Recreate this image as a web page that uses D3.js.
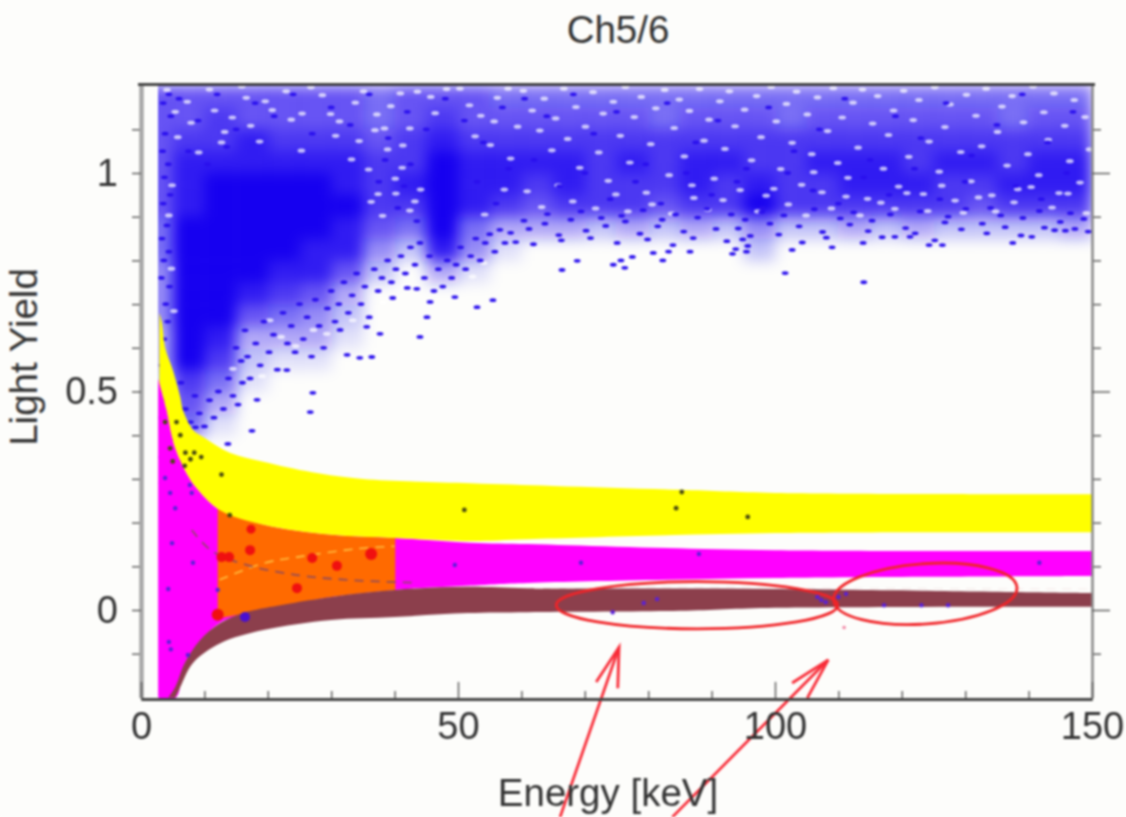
<!DOCTYPE html>
<html><head><meta charset="utf-8">
<script src="https://cdn.jsdelivr.net/npm/d3@7"></script>
<style>html,body{margin:0;padding:0;background:#fdfdfb;overflow:hidden}svg{display:block;filter:blur(0.8px)}</style>
</head><body><div id="c"></div>
<script>
const title = "Ch5/6", xLabel = "Energy [keV]", yLabel = "Light Yield";
const xMajor = [0,50,100,150], xMinor = [10,20,30,40,60,70,80,90,110,120,130,140];
const yMajor = [0,0.5,1], yMinor = [-0.1,0.1,0.2,0.3,0.4,0.6,0.7,0.8,0.9,1.1];

const yellowUpper = [[2.9,.68],[3.3,.657],[3.8,.6],[5,.55],[6.2,.487],[6.6,.458],[8.2,.412],[9.8,.396],[14,.36],[19.3,.339],[27,.315],[35,.30],[52,.29],[65,.284],[85,.275],[100,.268],[150,.265]];
const yellowLower = [[2.9,.52],[4,.46],[5.2,.38],[7.2,.313],[9,.275],[12.4,.229],[19.3,.195],[30,.172],[40,.165],[52,.158],[61,.162],[100,.176],[150,.178]];
const magentaUpper = [[2.7,.53],[4,.46],[5.2,.38],[7.2,.313],[9,.275],[12.4,.229],[19.3,.195],[30,.172],[40,.165],[52,.154],[61,.151],[75,.145],[100,.137],[150,.135]];
const magentaLower = [[2.7,-.2],[5.5,-.2],[7,-.12],[12.4,-.03],[19.3,0],[30,.03],[40,.046],[52,.056],[61,.062],[100,.073],[150,.078]];
const orangeUpper = [[12.1,.232],[19.3,.195],[30,.172],[40.1,.165]];
const orangeLower = [[12.1,-.02],[19.3,0],[30,.03],[40.1,.046]];
const brownUpper = [[4.3,-.2],[5.4,-.176],[6.9,-.121],[9.3,-.069],[12.5,-.03],[16.1,-.007],[19.3,.004],[30,.03],[40,.046],[51.5,.053],[61,.05],[100,.048],[150,.039]];
const brownLower = [[5.4,-.2],[6.2,-.176],[8.2,-.121],[12.5,-.076],[19.3,-.046],[30,-.023],[40,-.016],[51.5,-.007],[61,-.005],[85,-.002],[100,.005],[150,.007]];

const redDots = [[12.1,-.011,6],[12.7,.121,5],[13.9,.121,5],[17.35,.185,4.5],[17.2,.137,5],[27,.119,5],[30.9,.101,5],[36.3,.128,6],[24.6,.05,5]];
const bigBlueDot = [[16.4,-.016,5]];
const fitYellow = [[12.4,.069],[19.3,.107],[24.6,.121],[34,.14],[40,.146]];
const fitGrey = [[8,.183],[11,.137],[16.2,.105],[24.6,.08],[32.5,.069],[43.6,.062]];
const fitWhite = [[62,.05],[85,.052],[110,.05],[150,.048]];

/* density of the blue cloud, 5 keV columns, 0.05 rows from the top (read by eye, 0-9) */
const densityRows = [1.175,1.125,1.075,1.025,.975,.925,.875,.825,.775,.725,.675,.625,.575,.525,.475,.425];
const densityGrid = [
[6,6,6,6,6,6,6,5,6,6,6,5,5,5,5,5,5,5,5,5,5,5,5,5,5,5,5,5,5,5],
[6,6,7,6,6,6,6,5,6,7,6,6,6,6,6,6,5,6,6,6,5,6,6,6,6,6,6,5,6,6],
[6,7,7,8,7,7,7,6,7,8,7,7,7,7,7,7,7,7,7,7,7,7,7,7,7,7,7,7,7,7],
[6,8,8,8,8,8,8,7,7,9,8,8,8,8,7,8,7,8,8,7,7,8,8,8,7,8,8,7,8,8],
[6,8,9,9,9,9,8,7,8,9,8,8,7,8,7,7,7,8,7,8,7,7,8,8,8,7,7,8,8,8],
[6,8,9,9,9,9,9,7,7,9,8,7,6,7,7,7,6,7,7,9,7,7,7,7,7,7,6,7,7,7],
[5,9,9,9,9,9,8,6,5,9,5,3,3,3,2,3,2,3,2,4,2,2,3,2,3,2,2,2,2,3],
[5,9,9,9,9,8,8,4,2,8,4,1,0,0,0,0,0,0,0,2,0,0,0,0,0,0,0,0,0,0],
[4,9,9,9,8,8,6,2,0,3,1,0,0,0,0,0,0,0,0,0,0,0,0,0,0,0,0,0,0,0],
[4,9,9,8,7,6,3,0,0,0,0,0,0,0,0,0,0,0,0,0,0,0,0,0,0,0,0,0,0,0],
[4,9,9,6,5,4,2,0,0,0,0,0,0,0,0,0,0,0,0,0,0,0,0,0,0,0,0,0,0,0],
[3,9,8,3,3,3,1,0,0,0,0,0,0,0,0,0,0,0,0,0,0,0,0,0,0,0,0,0,0,0],
[3,9,7,2,1,1,0,0,0,0,0,0,0,0,0,0,0,0,0,0,0,0,0,0,0,0,0,0,0,0],
[2,7,5,1,0,0,0,0,0,0,0,0,0,0,0,0,0,0,0,0,0,0,0,0,0,0,0,0,0,0],
[2,6,3,0,0,0,0,0,0,0,0,0,0,0,0,0,0,0,0,0,0,0,0,0,0,0,0,0,0,0],
[2,5,1,0,0,0,0,0,0,0,0,0,0,0,0,0,0,0,0,0,0,0,0,0,0,0,0,0,0,0]];

const cloudPoints = [
[66.4,.778],[68.8,.799],[74.5,.79],[76.3,.783],[75.7,.80],[77.5,.808],[82.3,.80],[80.8,.817],[83.2,.82],[86.6,.82],[93.3,.815],[95.5,.82],[102.7,.824],[101.6,.771],[114,.75],[109,.83],[113.9,.84],[126.4,.835],[124.3,.835],[137.5,.84],[140.5,.854],[118.9,.854],[121.3,.854],
[23,.549],[27.1,.497],[18.3,.481],[32.5,.584],[34.5,.577],[36.4,.579],[44,.625],[37.7,.632],[45.1,.67],[53,.693],[55.5,.709],[45.6,.705],[49.5,.716],[42,.737],[43.5,.735],[39.7,.714],[35.6,.648],[31.4,.641],[26.7,.453],[17.5,.41],[13.7,.38],[12.3,.364],
[15,.60],[15.8,.57],[16.4,.64],[17.2,.53],[18.1,.61],[18.8,.56],[19.4,.66],[20.2,.59],[20.9,.63],[21.5,.55],[22.4,.68],[23.1,.61],[23.7,.65],[24.3,.59],[25,.70],[25.6,.62],[26.2,.67],[26.9,.58],[27.5,.71],[28.1,.65],[28.8,.60],[29.4,.69],[30,.73],[30.6,.66],[31.2,.70],[32,.75],[32.7,.68],[33.3,.72],[34,.77],[34.7,.70],[35.3,.74],[36,.67],[36.8,.78],[37.4,.73],[38,.76],[38.9,.80],[39.5,.75],[40.2,.78],[41,.81],[41.7,.77],[42.5,.83],[43.2,.79],[44,.84],[44.7,.76],[45.5,.81],[46.2,.73],[46.9,.78],[47.6,.74],[48.3,.80],[49,.76],[49.7,.79],[50.4,.83],[51.2,.78],[52,.81],[52.8,.85],[53.5,.80],[54.3,.84],[55,.86],[55.8,.82],[56.6,.87],[57.4,.84],
[58.3,.863],[59.1,.842],[60.4,.891],[61.2,.872],[61.9,.837],[63.7,.884],[64.1,.906],[65.9,.858],[66.3,.846],[67.8,.893],[69.4,.912],[70.2,.868],[70.9,.851],[72.6,.897],[73.3,.879],[75.1,.84],[75.8,.902],[76.4,.889],[78.7,.861],[79.2,.915],[79.9,.848],[81.5,.878],[82.2,.893],[83.9,.835],[84.3,.905],[85.6,.866],[87.1,.851],[87.8,.898],[89.3,.918],[90.7,.872],[92.4,.844],[93.1,.905],[93.8,.826],[94.2,.873],[94.9,.848],[95.3,.893],[95.7,.833],[96.1,.856],[97.9,.911],[99.2,.884],[100.6,.859],[101.4,.903],[103.8,.878],[104.3,.841],[106.2,.917],[107.5,.865],[108.1,.852],[110.3,.896],[111.8,.882],[112.4,.91],[114.7,.867],[115.3,.891],[116.9,.853],[118.2,.905],[120.6,.874],[122.1,.862],[122.9,.912],[125.2,.846],[126.8,.887],[127.3,.9],[129.4,.871],[130.1,.918],[132.7,.884],[133.4,.862],[135.6,.903],[136.3,.876],[138.8,.857],[139.1,.897],[141.7,.913],[142.5,.875],[144.1,.869],[145,.888],[145.8,.868],[146.6,.908],[147.3,.872],[148.7,.895],[149.4,.866],
[3.3,.56],[3.6,.62],[3.9,.70],[4.2,.66],[3.2,.76],[3.6,.80],[4.5,.74],[3.3,.85],[4.1,.88],[3.5,.93],[4.4,.82],[3.7,.99],[4.6,.95],[3.4,1.05],[4.3,1.02],[3.8,1.09],[4.7,1.13],[3.5,1.16],[4.4,1.18],[5.2,.49],[5.7,.44],[6.3,.52],[7,.46],[7.8,.43],[8.5,.49],[9.2,.45],[10,.42],[10.8,.48],[11.5,.44],[12.2,.50],[13,.46],[13.8,.53],[14.5,.49],[15.3,.47],[16,.52],[16.8,.58],
[3.2,.35],[3.6,.34],[4.1,.345],[4.6,.33],[5.2,.338],[5.9,.34],[6.6,.335],[7.4,.342],[8,.33],[3.4,.40],[4,.42],[3.7,.37],[6.2,.43],[6.7,.405],[7.2,.42],[7.9,.40],[8.6,.418],[5.3,.40],[3.1,.44],[3.5,.48],[4.3,.5],[5,.44],[5.6,.47],[6.1,.46],[4.6,.39],[3.9,.31],[3.3,.29],
[60.5,1.17],[64,1.13],[68.2,1.18],[71.4,1.09],[75,1.14],[79.6,1.02],[83,1.16],[87.5,1.07],[91,1.12],[95.5,1.01],[99,1.15],[103,1.05],[107,1.1],[111,1.17],[115,1.03],[119,1.13],[123,1.08],[127,1.16],[131,1.04],[135,1.11],[139,1.18],[143,1.07],[147,1.14],
[62,1.03],[66,.97],[70,1.0],[74,.94],[78,.98],[82,.93],[86,1.0],[90,.95],[94,.98],[98,.92],[102,1.0],[106,.96],[110,.93],[114,.99],[118,.95],[122,1.01],[126,.94],[130,.98],[134,.92],[138,.97],[142,.94],[146,1.0],
[6,1.17],[9,1.12],[12,1.18],[15,1.1],[18,1.16],[21,1.13],[24,1.18],[27,1.09],[30,1.15],[33,1.11],[36,1.18],[39,1.08],[42,1.14],[45,1.1],[48,1.17],[51,1.12],[54,1.07],[57,1.15],
[7.5,1.05],[10.5,1.02],[13.5,1.06],[37.5,.98],[38.5,1.03],[40.5,.92],[41.5,.97],[42.5,1.02],[43.5,.89],[53,.98],[56,.93],[58,1.01]
];
const cloudGaps = [
[7.3,1.163],[10.8,1.191],[14.4,1.127],[16.6,1.172],[20.7,1.144],[22.9,1.187],[25.4,1.136],[28.6,1.178],[31.3,1.118],[33.8,1.161],[37.2,1.134],[40.9,1.182],[42.4,1.102],[45.7,1.174],[50.3,1.193],[53.6,1.131],[56.2,1.172],[59.4,1.106],
[5.8,1.082],[9.1,1.047],[13.2,1.094],[18.7,1.072],[25.3,1.051],[34.4,1.073],[38.9,1.054],[41.2,1.012],[55.1,1.064],[58.3,1.033],[4.9,.972],[4.4,.903],[4.8,.781],[5.2,.684],[36.3,.934],[38.1,.902],[40.2,.953],[42.4,.914],[44.1,.962],[54.2,.905],[57.3,.962],[20.3,.663],[22.1,.625],[24.4,.604],[27.2,.641],[14.5,.552],[19.1,.535],[29.3,.632],[33.4,.663],[38.2,.704],[41.6,.742],[52.3,.763],[54.1,.794],
[4.1,1.19],[5.4,1.14],[7.9,1.115],[11.6,1.143],[12.7,1.07],[15.9,1.198],[17.3,1.108],[19.6,1.164],[23.7,1.122],[26.8,1.196],[29.9,1.135],[30.7,1.085],[35.1,1.187],[36.9,1.098],[39.4,1.153],[43.6,1.186],[46.4,1.137],[48.2,1.192],[51.8,1.155],[52.7,1.084],[55.7,1.118],[57.9,1.193],[38.4,1.102],[41.3,1.063],[33.2,1.031],[35.9,1.008],[40.1,.987],[37.4,.952],[43.2,.935],
[60.3,1.188],[61.7,1.143],[62.9,1.097],[63.6,1.17],[64.8,1.052],[65.4,1.125],[66.7,1.193],[67.3,1.078],[68.6,1.151],[69.2,1.012],[70.1,1.106],[71.3,1.185],[72.2,1.047],[72.9,1.136],[73.7,.982],[74.5,1.163],[75.6,1.085],[76.4,1.197],[77.1,1.024],[77.8,1.128],[78.9,1.174],[79.7,.955],[80.4,1.066],[81.2,1.148],[82.6,1.19],[83.3,.995],[84.1,1.103],[84.9,1.168],[85.7,1.038],[86.5,1.142],[87.2,.943],[88.1,1.192],[88.8,1.074],[89.6,1.122],[90.4,.987],[91.3,1.164],[92.1,1.055],[92.8,1.187],[93.7,1.107],[94.5,.961],[95.2,1.145],[96.3,1.029],[97.1,1.176],[97.8,1.082],[98.6,.948],[99.4,1.197],[100.2,1.118],[100.9,1.009],[101.8,1.158],[102.7,1.069],[103.4,1.186],[104.2,.973],[105.1,1.134],[105.8,1.043],[106.7,1.173],[107.4,.956],[108.3,1.096],[109.2,1.194],[109.9,1.023],[110.6,1.127],[111.5,.989],[112.3,1.161],[113.1,1.058],[113.8,1.191],[114.6,.941],[115.4,1.113],[116.2,1.176],[117.1,1.01],[117.9,1.087],[118.7,1.143],[119.5,.969],[120.3,1.188],[121.1,1.037],[121.8,1.121],[122.7,1.167],[123.4,.952],[124.3,1.072],[125.2,1.196],[125.9,1.003],[126.8,1.105],[127.6,1.157],[128.4,.937],[129.3,1.048],[130.2,1.179],[130.9,.981],[131.7,1.131],[132.6,1.061],[133.3,1.193],[134.2,.949],[135.1,1.094],[135.8,1.152],[136.6,1.017],[137.4,1.176],[138.3,.963],[139.2,1.116],[139.9,1.043],[140.7,1.198],[141.6,.995],[142.4,1.139],[143.1,1.076],[144,1.182],[144.8,.954],[145.7,1.108],[146.5,1.027],[147.2,1.167],[148.1,.978],[148.9,1.128],[149.6,1.054],
[60.9,.958],[63.2,.922],[65.8,.972],[68.1,.935],[71.7,.919],[74.9,.951],[76.8,.912],[80.6,.928],[83.7,.907],[86.9,.972],[89.4,.916],[91.8,.938],[97.3,.912],[99.8,.964],[102.1,.928],[104.9,.903],[106.1,1.002],[108.9,.919],[111.2,.946],[113.4,.903],[116.7,.932],[118.9,.918],[120.8,.954],[124.1,.913],[126.3,.971],[129.7,.909],[132.1,.944],[134.8,.912],[137.7,.933],[140.4,.968],[143.7,.921],[146.2,.953],[149.1,.908]
];
const darkMarks = [[51,.229],[85.3,.27],[84.4,.233],[95.7,.213],[14,.217],[12.7,.31],[9.5,.35],[7,.36],[6.2,.40],[8.4,.36],[5.6,.43],[6.9,.33],[7.8,.345],[4.6,.37],[3.8,.43],[5,.34]];
const strayBlue = [[69.4,.108],[88,.128],[141.7,.108],[49.5,.103],[74.4,-.005],[79.3,.016],[81.4,.025],[107.3,.023],[106.7,.03],[108,.018],[111.2,.037],[110,.03],[117.2,.011],[123.1,.011],[127.3,.011],[4.9,.153],[4.3,.048],[4.4,-.073],[4.7,-.09],[7.4,-.103],[12.1,.046],[8.2,.108],[5.4,.233],[4.6,.268],[8,.268],[3.8,.302],[7.7,.286]];
const strayPink = [[110.9,-.04]];
/* hand-drawn annotations, in data units */
const rings = [[87.7,.011,22.2,.054,0],[123.7,.037,14.5,.069,-4]];
const arrowShafts = [[[66.1,-.474],[75.4,-.085]],[[83.8,-.474],[108.4,-.114]]];
const arrowHeads = [[[71.8,-.165],[75.4,-.085],[75.2,-.179]],[[102.7,-.167],[108.4,-.114],[105.1,-.201]]];

const W = 1126, H = 817;
const x = d3.scaleLinear().domain([0,150]).range([141,1092]);
const y = d3.scaleLinear().domain([-.2,1.2]).range([697.4,85.6]);
const svg = d3.select("#c").append("svg").attr("width",W).attr("height",H);
const defs = svg.append("defs");
defs.append("filter").attr("id","haze").attr("x","-5%").attr("y","-5%").attr("width","110%").attr("height","110%")
  .append("feGaussianBlur").attr("stdDeviation",7);
defs.append("clipPath").attr("id","cloudClip").append("rect")
  .attr("x",x(2.7)).attr("y",y(1.2)).attr("width",x(150)-x(2.7)).attr("height",y(-.2)-y(1.2));
svg.append("rect").attr("width",W).attr("height",H).attr("fill","#fdfdfb");

/* blue cloud */
const cloud = svg.append("g").attr("clip-path","url(#cloudClip)");
const hazeG = cloud.append("g").attr("filter","url(#haze)");
densityGrid.forEach((row,i)=>row.forEach((d,j)=>{
  if(!d) return;
  hazeG.append("rect").attr("x",x(j*5)).attr("width",x(5)-x(0)+.5)
    .attr("y",y(densityRows[i]+.025)).attr("height",y(0)-y(.05)+.5)
    .attr("fill","#1800f0").attr("opacity",Math.min(1,d/9));
}));
cloud.append("g").selectAll("ellipse").data(cloudGaps).join("ellipse")
  .attr("cx",d=>x(d[0])).attr("cy",d=>y(d[1])).attr("rx",3.8).attr("ry",2.1).attr("fill","#fff").attr("opacity",.7);
cloud.append("g").selectAll("ellipse").data(cloudPoints).join("ellipse")
  .attr("cx",d=>x(d[0])).attr("cy",d=>y(d[1])).attr("rx",3.4).attr("ry",1.9).attr("fill","#2a10ee");

/* bands */
const line = d3.line().x(d=>x(d[0])).y(d=>y(d[1]));
const smooth = d3.line().x(d=>x(d[0])).y(d=>y(d[1])).curve(d3.curveCatmullRom.alpha(.5));
const band = (up,lo,c)=>svg.append("path").attr("d",smooth(up)+"L"+smooth(lo.slice().reverse()).slice(1)+"Z").attr("fill",c);
band(magentaUpper,magentaLower,"#ff00ff");
band(orangeUpper,orangeLower,"#ff6a00");
band(yellowUpper,yellowLower,"#ffff00");
band(brownUpper,brownLower,"#8c3f4c");

const dash=(data,c,w,o)=>svg.append("path").attr("d",smooth(data)).attr("fill","none").attr("stroke",c).attr("stroke-width",w).attr("stroke-dasharray","9 7").attr("opacity",o);
dash(fitYellow,"#ffc040",1.6,1);
dash(fitGrey,"#8a4a60",1.8,.9);
dash(fitWhite,"#f4e8e8",1.2,.8);

const dots=(data,c,r)=>svg.append("g").selectAll("circle").data(data).join("circle")
  .attr("cx",d=>x(d[0])).attr("cy",d=>y(d[1])).attr("r",d=>d[2]||r).attr("fill",c);
dots(darkMarks,"#4a4a10",2.4);
dots(strayBlue,"#5a20d8",2.2);
dots(strayPink,"#f080a0",1.7);
dots(redDots,"#f01010");
dots(bigBlueDot,"#4a10d0");

/* annotations */
svg.append("g").selectAll("ellipse").data(rings).join("ellipse")
  .attr("transform",d=>`translate(${x(d[0])},${y(d[1])}) rotate(${d[4]})`)
  .attr("rx",d=>x(d[2])-x(0)).attr("ry",d=>y(0)-y(d[3]))
  .attr("fill","none").attr("stroke","#f02428").attr("stroke-width",2.8);
svg.append("g").selectAll("path").data(arrowShafts.concat(arrowHeads)).join("path")
  .attr("d",d=>line(d)).attr("fill","none").attr("stroke","#f82c38").attr("stroke-width",2.8);

/* axes */
const ink="#333";
const style=(g,c,w,fs)=>{g.select(".domain").attr("stroke",c).attr("stroke-width",w);g.selectAll("line").attr("stroke","#555").attr("stroke-width",1.4);g.selectAll("text").attr("fill",ink).attr("font-family","Liberation Sans, Arial, sans-serif").attr("font-size",fs);};
const yBot=y(-.2)+1.5;
const addX=(vals,size,fmt)=>svg.append("g").attr("transform",`translate(0,${yBot})`)
  .call(d3.axisBottom(x).tickValues(vals).tickSize(size).tickPadding(13).tickSizeOuter(0).tickFormat(fmt)).call(style,"#444",3,38);
const addY=(vals,size,fmt)=>svg.append("g").attr("transform",`translate(${x(0)},0)`)
  .call(d3.axisLeft(y).tickValues(vals).tickSize(size).tickPadding(14).tickSizeOuter(0).tickFormat(fmt)).call(style,"#a8a8a8",4,38);
const addR=(vals,size)=>svg.append("g").attr("transform",`translate(${x(150)},0)`)
  .call(d3.axisRight(y).tickValues(vals).tickSize(size).tickSizeOuter(0).tickFormat("")).call(style,"#888",2,38);
addY(yMinor,9,"");addY(yMajor,9,d3.format("~g"));
addR(yMinor,9);addR(yMajor,18);
addX(xMinor,-8,"");addX(xMajor,-17,d3.format("d"));
svg.append("line").attr("x1",x(0)-3).attr("x2",x(150)+3).attr("y1",y(1.2)-1).attr("y2",y(1.2)-1).attr("stroke","#222").attr("stroke-width",2.5);

const lab=(t,px,py,rot)=>svg.append("text").text(t).attr("text-anchor","middle")
  .attr("transform",`translate(${px},${py})`+(rot?` rotate(${rot})`:""))
  .attr("fill",ink).attr("font-family","Liberation Sans, Arial, sans-serif").attr("font-size",38.5);
lab(title,618,43);
lab(xLabel,608,806);
lab(yLabel,37,357,-90);
</script></body></html>
